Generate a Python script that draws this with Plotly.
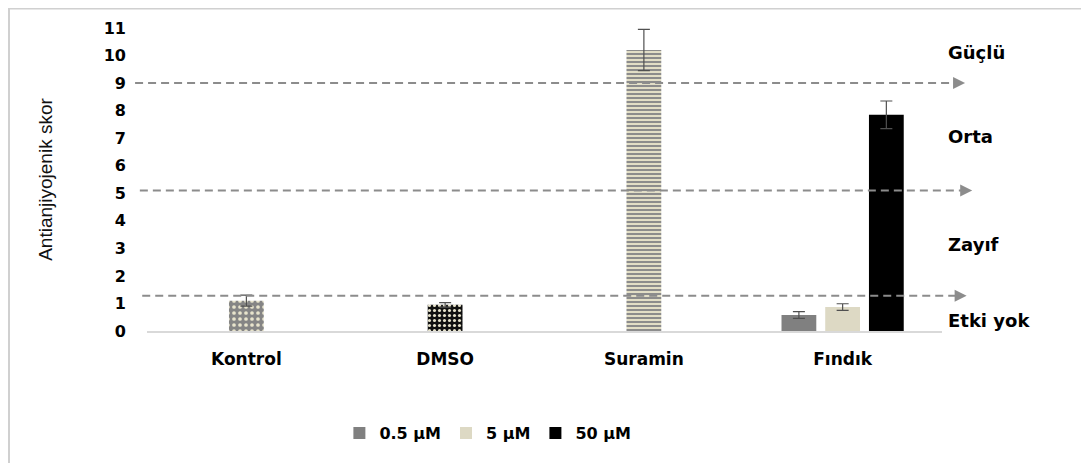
import plotly.graph_objects as go

# ---- data ----
categories = ["Kontrol", "DMSO", "Suramin", "Fındık"]
single_values = [1.1, 0.95, 10.2]          # Kontrol, DMSO, Suramin
single_errors = [0.2, 0.08, 0.75]
dose_labels = ["0.5 µM", "5 µM", "50 µM"]   # Fındık doses
dose_values = [0.58, 0.87, 7.85]
dose_errors = [0.12, 0.12, 0.5]
threshold_values = [9.0, 5.1, 1.28]
zone_labels = ["Güçlü", "Orta", "Zayıf", "Etki yok"]
zone_label_y = [10.1, 7.05, 3.15, 0.37]
y_ticks = list(range(0, 12))

# ---- styles ----
BOLD = "DejaVu Sans"
bar_w = 0.175
group_step = 0.22
dose_colors = ["#808080", "#ddd9c4", "#000000"]
single_patterns = [
    dict(shape=".", fgcolor="#e8e4cc", bgcolor="#858585", size=6, solidity=0.3, fillmode="replace"),
    dict(shape=".", fgcolor="#e8e4cc", bgcolor="#111111", size=5, solidity=0.3, fillmode="replace"),
    dict(shape="-", fgcolor="#8c8c8c", bgcolor="#e2dec6", size=4, solidity=0.5, fillmode="replace"),
]
err_style = dict(type="data", color="#505050", thickness=1.2, width=6, visible=True)

fig = go.Figure()

for cat, val, err, pat in zip(categories[:3], single_values, single_errors, single_patterns):
    fig.add_trace(go.Bar(
        x=[cat], y=[val], width=bar_w, offset=-bar_w / 2,
        marker=dict(color=pat["bgcolor"], pattern=pat, line=dict(width=0)),
        error_y=dict(array=[err], **err_style),
        showlegend=False, hoverinfo="y",
    ))

for i, (lab, val, err, col) in enumerate(zip(dose_labels, dose_values, dose_errors, dose_colors)):
    fig.add_trace(go.Bar(
        x=[categories[3]], y=[val], width=bar_w,
        offset=-bar_w / 2 + (i - 1) * group_step,
        marker=dict(color=col, line=dict(width=0)),
        error_y=dict(array=[err], **err_style),
        name=lab, showlegend=True,
    ))

# threshold dashed lines with arrowheads
line_starts = [-0.015, -0.009, -0.006]
arrow_tips = [1.029, 1.038, 1.031]
for yv, x0, x1 in zip(threshold_values, line_starts, arrow_tips):
    fig.add_shape(type="line", xref="paper", yref="y", x0=x0, x1=x1 - 0.012, y0=yv, y1=yv,
                  line=dict(color="#8c8c8c", width=2, dash="8px,5px"), layer="above")
    fig.add_annotation(xref="paper", yref="y", x=x1, y=yv, ax=-12, ay=0,
                       axref="pixel", ayref="pixel", text="", showarrow=True,
                       arrowhead=2, arrowsize=1.2, arrowwidth=2, arrowcolor="#8c8c8c")

for lab, yv in zip(zone_labels, zone_label_y):
    fig.add_annotation(xref="paper", yref="y", x=1.005, y=yv, text=lab, showarrow=False,
                       xanchor="left", yanchor="middle",
                       font=dict(family=BOLD, size=18, color="#000000", weight="bold"))

# outer chart frame (left and top edges)
fig.add_shape(type="line", xref="paper", yref="paper", x0=-0.1736, x1=-0.1736, y0=-0.45, y1=1.066,
              line=dict(color="#d0d0d0", width=2))
fig.add_shape(type="line", xref="paper", yref="paper", x0=-0.1736, x1=1.2, y0=1.064, y1=1.064,
              line=dict(color="#d0d0d0", width=2))

fig.update_layout(
    width=1081, height=455,
    margin=dict(l=139, r=147, t=20, b=132),
    paper_bgcolor="white", plot_bgcolor="white",
    barmode="overlay",
    showlegend=True,
    legend=dict(orientation="h", x=0.242, xanchor="left", y=-0.337, yanchor="middle",
                font=dict(family=BOLD, size=16, color="#000000", weight="bold"),
                bgcolor="rgba(0,0,0,0)"),
    xaxis=dict(type="category", categoryorder="array", categoryarray=categories,
               range=[-0.5, 3.5], showline=True, linecolor="#d9d9d9", linewidth=1.5,
               showgrid=False, zeroline=False, ticks="", ticklabelstandoff=12,
               tickfont=dict(family=BOLD, size=17, color="#000000", weight="bold")),
    yaxis=dict(range=[0, 11], tickvals=y_ticks, showline=False, showgrid=False, zeroline=False,
               ticks="", ticklabelstandoff=20,
               tickfont=dict(family=BOLD, size=16, color="#000000", weight="bold"),
               title=dict(text="Antianjiyojenik skor", standoff=46,
                          font=dict(family="Liberation Sans", size=19, color="#111111"))),
)

fig.write_html("out.html")
